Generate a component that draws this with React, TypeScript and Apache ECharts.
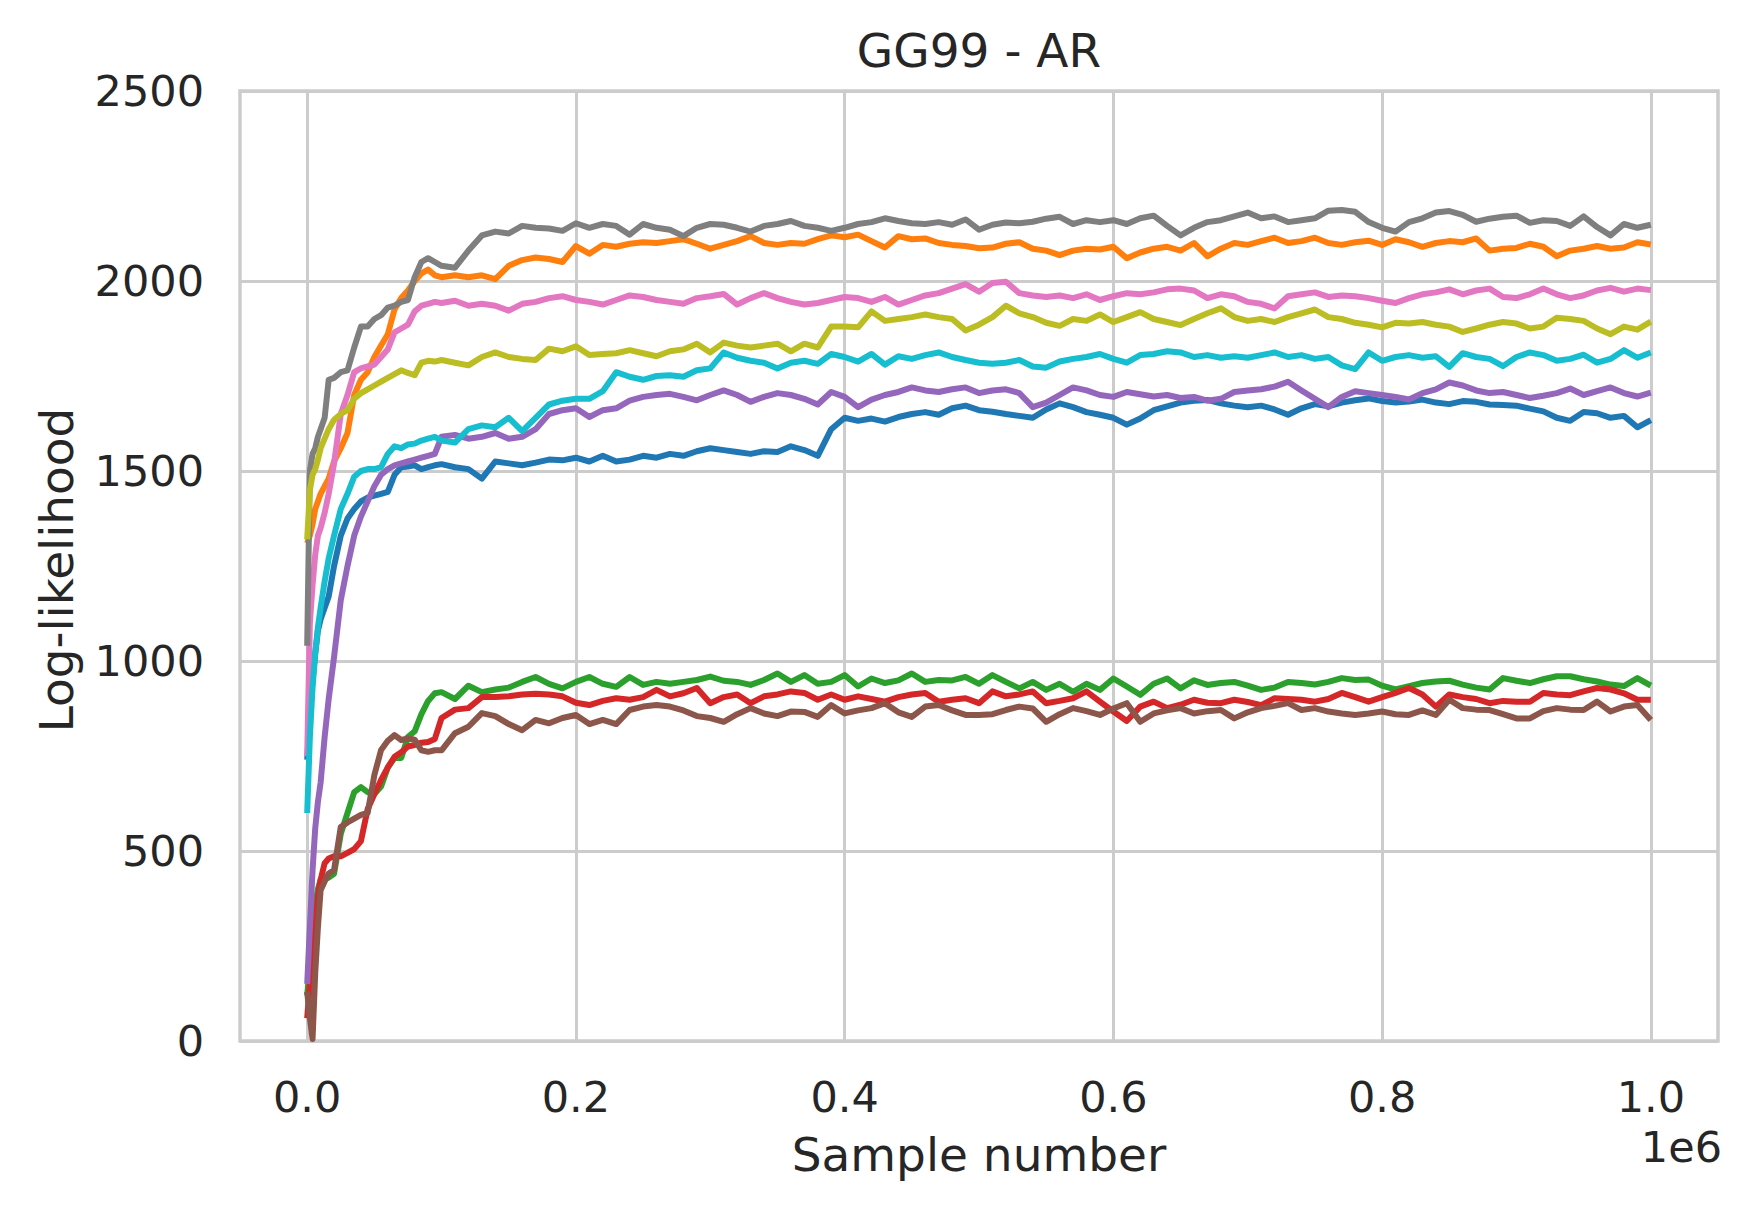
import React, { useEffect, useRef } from "react";
import * as echarts from "echarts";

// Sample numbers, in thousands
const SAMPLE_K = [
  0, 2, 4, 6, 8, 10, 13, 16, 20, 25, 30, 35, 40, 45, 50, 55, 60, 65, 70, 75, 80, 85, 90, 95, 100,
  110, 120, 130, 140, 150, 160, 170, 180, 190, 200,
  210, 220, 230, 240, 250, 260, 270, 280, 290, 300,
  310, 320, 330, 340, 350, 360, 370, 380, 390, 400,
  410, 420, 430, 440, 450, 460, 470, 480, 490, 500,
  510, 520, 530, 540, 550, 560, 570, 580, 590, 600,
  610, 620, 630, 640, 650, 660, 670, 680, 690, 700,
  710, 720, 730, 740, 750, 760, 770, 780, 790, 800,
  810, 820, 830, 840, 850, 860, 870, 880, 890, 900,
  910, 920, 930, 940, 950, 960, 970, 980, 990, 1000,
];

const BLUE = [
  740, 850, 950, 1020, 1080, 1110, 1140, 1170, 1250, 1330, 1375, 1400, 1420, 1430, 1435, 1440, 1445, 1490, 1510, 1512, 1515, 1505, 1510, 1515, 1518,
  1510, 1505, 1480, 1525, 1520, 1515, 1522, 1530, 1528, 1535,
  1525, 1540, 1525, 1530, 1540, 1535, 1545, 1540, 1552, 1560,
  1555, 1550, 1545, 1552, 1550, 1565, 1555, 1540, 1610, 1640,
  1632, 1638, 1630, 1642, 1650, 1655, 1648, 1665, 1672, 1660,
  1656, 1650, 1645, 1640, 1662, 1678, 1668, 1655, 1648, 1640,
  1622, 1638, 1660, 1670, 1680, 1685, 1687, 1678, 1672, 1668,
  1672, 1662, 1648, 1665, 1676, 1670, 1680, 1686, 1691, 1684,
  1680, 1683, 1688, 1680, 1676, 1684, 1682, 1675, 1674, 1672,
  1664, 1657, 1640, 1632, 1655, 1652, 1640, 1645, 1615, 1634,
];

const ORANGE = [
  1310, 1330, 1360, 1400, 1420, 1440, 1460, 1480, 1525, 1560, 1600, 1700, 1740, 1760, 1800, 1830, 1860, 1925, 1955, 1975, 2000, 2020, 2030, 2015, 2010,
  2015, 2010, 2015, 2005, 2040, 2055, 2062, 2058, 2050, 2092,
  2072, 2095, 2090, 2098, 2102, 2100, 2105, 2110, 2098, 2085,
  2095, 2105, 2118, 2100, 2095, 2100, 2098, 2110, 2120, 2115,
  2122, 2105, 2088, 2118, 2110, 2112, 2100, 2095, 2092, 2086,
  2088, 2098, 2102, 2085, 2080, 2068, 2080, 2085, 2083, 2090,
  2060, 2075, 2085, 2090, 2080, 2100, 2065, 2085, 2100, 2095,
  2105, 2114, 2100, 2105, 2114, 2100, 2095, 2102, 2106, 2095,
  2110, 2102, 2090, 2100, 2105, 2102, 2112, 2080, 2085, 2087,
  2098, 2090, 2065, 2080, 2085, 2092, 2085, 2088, 2102, 2096,
];

const GREEN = [
  120, 200, 300, 360, 400, 425, 425, 430, 440, 545, 600, 655, 668, 655, 650, 670, 720, 745, 745, 800, 815, 860, 895, 915, 918,
  900, 935, 918, 925, 930, 945, 958, 940, 928, 945,
  958, 940, 932, 958, 937, 945, 940, 945, 950, 959,
  948, 945, 937, 950, 967, 945, 963, 940, 945, 963,
  933, 954, 942, 949, 967, 945, 950, 949, 958, 940,
  963, 945, 928, 945, 924, 940, 919, 940, 924, 954,
  933, 911, 940, 954, 928, 949, 937, 942, 945, 935,
  924, 930, 945, 942, 938, 945, 955, 950, 951, 935,
  925, 934, 942, 946, 948, 938, 930, 925, 955, 948,
  942, 952, 960, 960, 952, 946, 938, 934, 955, 935,
];

const RED = [
  60, 150, 230, 290, 380, 424, 468, 480, 486, 486, 495, 505, 526, 610, 650, 687, 720, 748, 760, 775, 779, 785, 787, 795, 850,
  872, 876, 905, 905, 907, 912, 914, 912, 907, 890,
  884, 895, 902, 898, 905, 924, 907, 915, 929, 889,
  905, 912, 889, 907, 912, 920, 916, 898, 912, 898,
  907, 900, 893, 905, 912, 916, 893, 898, 902, 889,
  920, 907, 912, 920, 889, 895, 902, 920, 893, 867,
  842, 880, 893, 876, 885, 898, 890, 889, 898, 892,
  884, 902, 900, 898, 893, 900, 916, 905, 893, 905,
  916, 929, 912, 880, 912, 905, 900, 889, 895, 893,
  893, 916, 912, 910, 920, 929, 925, 915, 898, 898,
];

const PURPLE = [
  150, 300, 450, 560, 630, 680, 800, 900, 1010, 1160, 1250, 1330, 1380, 1420, 1460, 1490, 1505, 1515, 1520, 1525, 1530, 1535, 1540, 1545, 1590,
  1595, 1585, 1590, 1600, 1585, 1590, 1610, 1650, 1660, 1665,
  1642, 1660, 1665, 1685, 1695, 1700, 1703, 1695, 1686, 1700,
  1712, 1700, 1682, 1695, 1705, 1700, 1690, 1675, 1708, 1695,
  1668, 1688, 1700, 1708, 1720, 1712, 1708, 1715, 1720, 1705,
  1712, 1715, 1705, 1668, 1680, 1700, 1720, 1712, 1700, 1695,
  1708, 1702, 1696, 1700, 1692, 1695, 1685, 1690, 1708, 1712,
  1715, 1722, 1735, 1712, 1690, 1668, 1695, 1710, 1705, 1700,
  1695, 1688, 1705, 1715, 1733, 1725, 1712, 1705, 1708, 1700,
  1692, 1698, 1705, 1717, 1700, 1710, 1720, 1705, 1696, 1706,
];

const BROWN = [
  130, 60, 5, 180, 300, 397, 420, 441, 450, 563, 575, 585, 595, 600, 700, 766, 790, 805, 792, 796, 793, 765, 761, 765, 765,
  810, 827, 863, 855, 834, 818, 845, 836, 850, 858,
  834, 845, 834, 871, 880, 884, 880, 870, 855, 850,
  840, 860, 876, 862, 855, 867, 866, 853, 884, 862,
  870, 876, 889, 865, 853, 880, 884, 870, 858, 858,
  860, 871, 880, 875, 840, 860, 876, 868, 858, 875,
  889, 840, 862, 870, 876, 862, 868, 871, 849, 865,
  876, 882, 889, 871, 876, 867, 862, 858, 862, 867,
  860, 858, 870, 858, 898, 876, 872, 871, 860, 849,
  849, 868, 876, 872, 871, 893, 867, 880, 884, 845,
];

const PINK = [
  750, 1100, 1200, 1280, 1330, 1350, 1390, 1440, 1520, 1650, 1700, 1760, 1770, 1775, 1780, 1800, 1820, 1865, 1875, 1885, 1920, 1935, 1940, 1945, 1942,
  1948, 1935, 1940, 1935, 1922, 1940, 1945, 1955, 1960, 1950,
  1945, 1938, 1950, 1962, 1958, 1950, 1945, 1940, 1955, 1960,
  1966, 1938, 1955, 1968, 1955, 1945, 1938, 1942, 1950, 1958,
  1955, 1945, 1958, 1938, 1950, 1962, 1968, 1980, 1992, 1972,
  1995, 1998, 1968, 1962, 1958, 1962, 1955, 1965, 1950, 1960,
  1968, 1965, 1970, 1978, 1980, 1975, 1955, 1965, 1960, 1945,
  1940, 1928, 1960, 1965, 1970, 1958, 1962, 1960, 1955, 1948,
  1942, 1955, 1965, 1970, 1978, 1965, 1975, 1980, 1958, 1955,
  1965, 1980, 1965, 1955, 1962, 1975, 1982, 1972, 1980, 1976,
];

const GRAY = [
  1040, 1500, 1545, 1560, 1590, 1610, 1640, 1740, 1745, 1760, 1765, 1825, 1880, 1880, 1900, 1910, 1930, 1935, 1945, 1950, 2010, 2050, 2060, 2050, 2040,
  2035, 2080, 2120, 2130, 2125, 2145, 2140, 2138, 2132, 2152,
  2140, 2150, 2145, 2122, 2150, 2140, 2135, 2118, 2140, 2150,
  2148, 2140, 2130, 2145, 2150, 2158, 2145, 2140, 2132, 2140,
  2150, 2155, 2165, 2158, 2152, 2150, 2155, 2148, 2162, 2135,
  2148, 2154, 2152, 2156, 2164, 2169, 2150, 2160, 2155, 2160,
  2150, 2165, 2172, 2145, 2120, 2140, 2155, 2160, 2170, 2180,
  2165, 2170, 2155, 2160, 2165, 2185, 2187, 2182, 2155, 2140,
  2130, 2155, 2165, 2180, 2184, 2174, 2156, 2164, 2169, 2172,
  2153, 2160, 2158, 2145, 2170, 2142, 2120, 2150, 2140, 2148,
];

const OLIVE = [
  1320, 1450, 1490, 1505, 1530, 1560, 1585, 1610, 1635, 1650, 1660, 1690, 1705, 1715, 1725, 1735, 1745, 1755, 1765, 1758, 1752, 1785, 1790, 1788, 1792,
  1785, 1778, 1800, 1812, 1800, 1795, 1792, 1822, 1815, 1828,
  1805, 1808, 1810, 1818, 1810, 1802, 1815, 1820, 1835, 1812,
  1838, 1830, 1825, 1830, 1835, 1815, 1835, 1825, 1880, 1880,
  1878, 1920, 1895, 1900, 1905, 1912, 1905, 1900, 1870, 1885,
  1905, 1935, 1915, 1905, 1890, 1882, 1900, 1895, 1912, 1892,
  1905, 1918, 1900, 1892, 1884, 1900, 1915, 1928, 1905, 1895,
  1900, 1892, 1905, 1915, 1925, 1905, 1900, 1890, 1885, 1878,
  1890, 1888, 1892, 1885, 1880, 1866, 1875, 1885, 1892, 1888,
  1875, 1880, 1903, 1900, 1895, 1875, 1860, 1880, 1872, 1893,
];

const CYAN = [
  600, 800, 930, 1020, 1090, 1140, 1210, 1270, 1330, 1400, 1440, 1485, 1500, 1505, 1505, 1510, 1545, 1565, 1560, 1570, 1572, 1580, 1585, 1590, 1580,
  1575, 1610, 1620, 1615, 1640, 1605, 1640, 1675, 1685, 1690,
  1690, 1710, 1760, 1748, 1740, 1750, 1752, 1748, 1765, 1770,
  1812, 1798, 1790, 1785, 1770, 1785, 1790, 1782, 1808, 1800,
  1788, 1808, 1780, 1802, 1795, 1805, 1812, 1800, 1792, 1785,
  1782, 1785, 1792, 1775, 1772, 1788, 1795, 1800, 1808, 1795,
  1785, 1805, 1808, 1815, 1812, 1800, 1805, 1798, 1802, 1798,
  1805, 1812, 1800, 1805, 1795, 1800, 1778, 1768, 1812, 1790,
  1800, 1805, 1798, 1802, 1774, 1810, 1800, 1795, 1776, 1800,
  1812, 1805, 1790, 1795, 1806, 1785, 1795, 1818, 1798, 1812,
];

const SERIES = [
  { name: "run 0", color: "#1f77b4", values: BLUE },
  { name: "run 1", color: "#ff7f0e", values: ORANGE },
  { name: "run 2", color: "#2ca02c", values: GREEN },
  { name: "run 3", color: "#d62728", values: RED },
  { name: "run 4", color: "#9467bd", values: PURPLE },
  { name: "run 5", color: "#8c564b", values: BROWN },
  { name: "run 6", color: "#e377c2", values: PINK },
  { name: "run 7", color: "#7f7f7f", values: GRAY },
  { name: "run 8", color: "#bcbd22", values: OLIVE },
  { name: "run 9", color: "#17becf", values: CYAN },
];

const TITLE = "GG99 - AR";
const X_LABEL = "Sample number";
const Y_LABEL = "Log-likelihood";
const X_OFFSET_TEXT = "1e6";

const FONT = "DejaVu Sans";
const TEXT = "#262626";
const GRID_COLOR = "#cccccc";

export default function App() {
  const ref = useRef<HTMLDivElement>(null);

  useEffect(() => {
    if (!ref.current) return;
    const chart = echarts.init(ref.current, undefined, { renderer: "svg" });

    const left = 240;
    const top = 91;
    const width = 1478;
    const height = 950;
    const innerLeft = left + (width * 0.05) / 1.1;
    const innerWidth = width / 1.1;

    const samples = SAMPLE_K.map((k) => k * 1000);

    chart.setOption({
      animation: false,
      backgroundColor: "#ffffff",
      grid: [
        {
          left,
          top,
          width,
          height,
          show: true,
          borderColor: GRID_COLOR,
          borderWidth: 3.5,
          backgroundColor: "transparent",
          containLabel: false,
        },
        {
          left: innerLeft,
          top,
          width: innerWidth,
          height,
          show: false,
          containLabel: false,
        },
      ],
      xAxis: [
        {
          type: "value",
          gridIndex: 0,
          min: -50000,
          max: 1050000,
          axisLine: { show: false },
          axisTick: { show: false },
          axisLabel: { show: false },
          splitLine: { show: false },
        },
        {
          type: "value",
          gridIndex: 1,
          min: 0,
          max: 1000000,
          interval: 200000,
          axisLine: { show: false },
          axisTick: { show: false },
          splitLine: { show: true, lineStyle: { color: GRID_COLOR, width: 3 } },
          axisLabel: {
            show: true,
            margin: 34,
            fontSize: 43,
            fontFamily: FONT,
            color: TEXT,
            formatter: (v: number) => (v / 1e6).toFixed(1),
          },
        },
      ],
      yAxis: [
        {
          type: "value",
          gridIndex: 0,
          min: 0,
          max: 2500,
          interval: 500,
          axisLine: { show: false },
          axisTick: { show: false },
          splitLine: { show: true, lineStyle: { color: GRID_COLOR, width: 3 } },
          axisLabel: {
            show: true,
            margin: 36,
            fontSize: 43,
            fontFamily: FONT,
            color: TEXT,
            formatter: (v: number) => String(v),
          },
        },
        {
          type: "value",
          gridIndex: 1,
          min: 0,
          max: 2500,
          show: false,
          splitLine: { show: false },
        },
      ],
      series: SERIES.map((s) => ({
        name: s.name,
        type: "line",
        xAxisIndex: 0,
        yAxisIndex: 0,
        showSymbol: false,
        symbol: "none",
        silent: true,
        z: 3,
        lineStyle: { color: s.color, width: 6, join: "round" },
        itemStyle: { color: s.color },
        data: samples.map((x, i) => [x, s.values[i]]),
      })),
      graphic: [
        {
          type: "text",
          x: left + width / 2,
          y: 50,
          style: {
            text: TITLE,
            fontSize: 47,
            fontFamily: FONT,
            fill: TEXT,
            align: "center",
            verticalAlign: "middle",
            textAlign: "center",
            textVerticalAlign: "middle",
          },
        },
        {
          type: "text",
          x: left + width / 2,
          y: 1154,
          style: {
            text: X_LABEL,
            fontSize: 47,
            fontFamily: FONT,
            fill: TEXT,
            align: "center",
            verticalAlign: "middle",
            textAlign: "center",
            textVerticalAlign: "middle",
          },
        },
        {
          type: "text",
          x: 56,
          y: 570,
          rotation: Math.PI / 2,
          style: {
            text: Y_LABEL,
            fontSize: 47,
            fontFamily: FONT,
            fill: TEXT,
            align: "center",
            verticalAlign: "middle",
            textAlign: "center",
            textVerticalAlign: "middle",
          },
        },
        {
          type: "text",
          x: 1722,
          y: 1147,
          style: {
            text: X_OFFSET_TEXT,
            fontSize: 43,
            fontFamily: FONT,
            fill: TEXT,
            align: "right",
            verticalAlign: "middle",
            textAlign: "right",
            textVerticalAlign: "middle",
          },
        },
      ],
    });

    return () => {
      chart.dispose();
    };
  }, []);

  return (
    <div
      ref={ref}
      style={{
        position: "absolute",
        left: 0,
        top: 0,
        width: 1749,
        height: 1212,
        background: "#ffffff",
      }}
    />
  );
}
